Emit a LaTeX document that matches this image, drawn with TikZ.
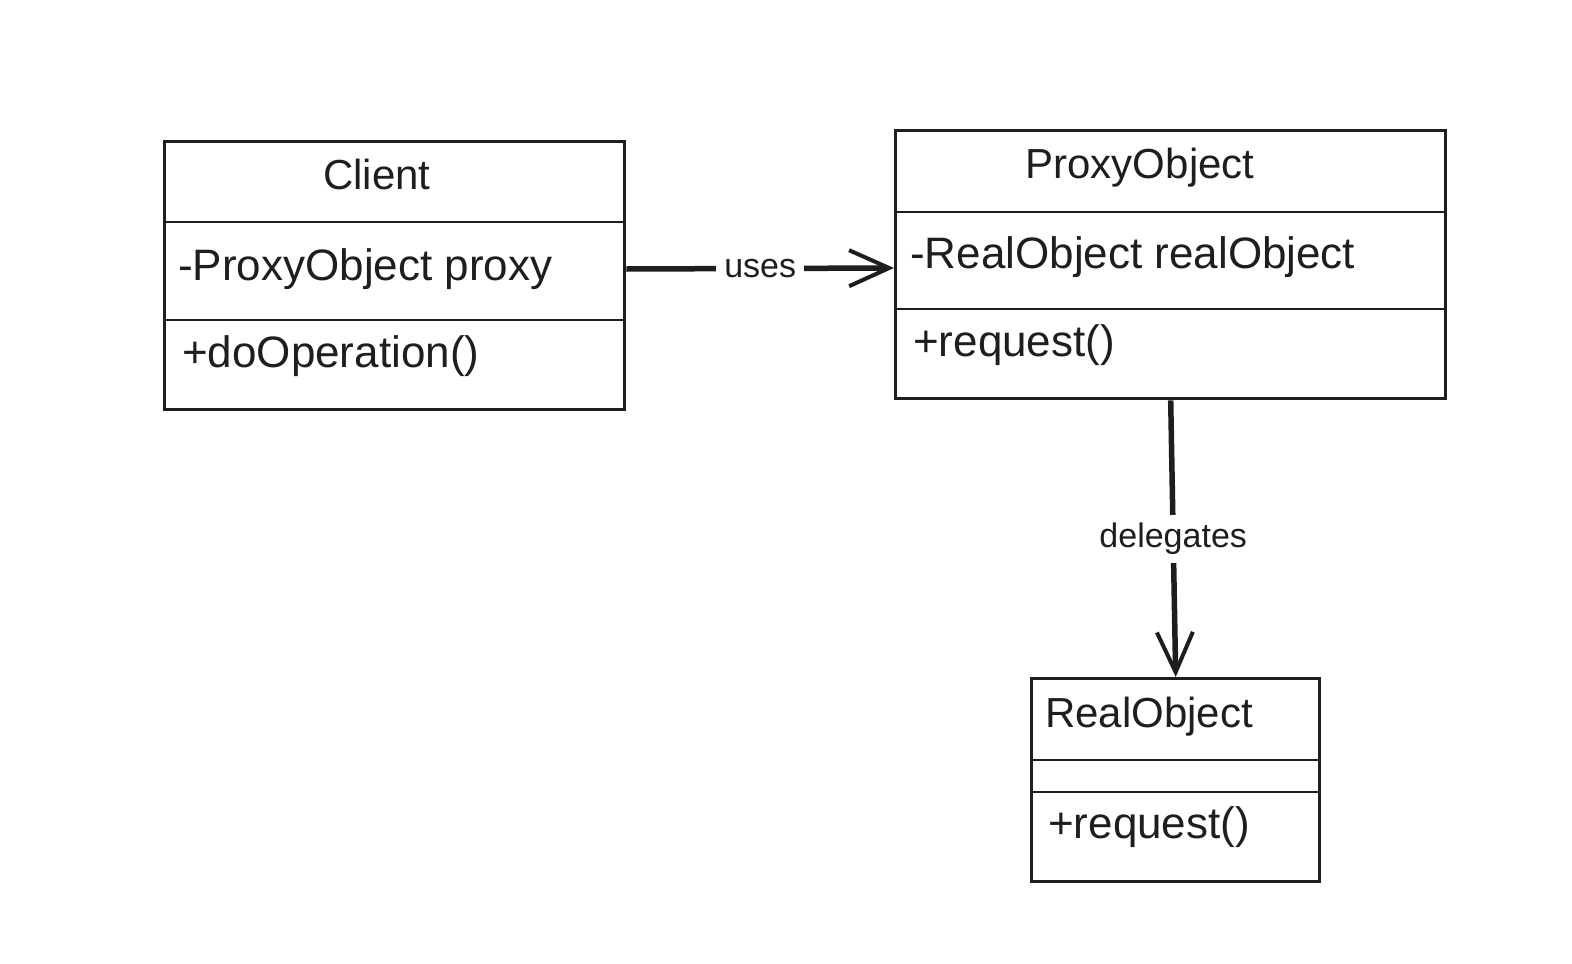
\documentclass[tikz,border=0pt]{standalone}
\usepackage{fontspec}
\setmainfont{Liberation Sans}
\usetikzlibrary{arrows.meta}
\definecolor{ink}{HTML}{1E1E1E}
\begin{document}
\begin{tikzpicture}[x=1pt,y=-1pt,
  box/.style={draw=ink, line width=3.4pt, inner sep=0pt, anchor=north west},
  divider/.style={draw=ink, line width=2pt},
  member/.style={anchor=base west, inner sep=0pt, text=ink, font=\fontsize{44}{52}\selectfont},
  classname/.style={inner sep=0pt, text=ink, font=\fontsize{42}{50}\selectfont},
  link/.style={draw=ink, line width=5.5pt, -{Straight Barb[length=40pt,width=36pt,line width=4pt]}},
  tag/.style={fill=white, inner sep=8pt, text=ink, font=\fontsize{34}{40}\selectfont}]
\useasboundingbox (0,0) rectangle (1572,964);

% class boxes
\node[box, minimum width=460pt, minimum height=268pt] (client) at (163,140) {};
\node[box, minimum width=550pt, minimum height=268pt] (proxy) at (894,129) {};
\node[box, minimum width=288pt, minimum height=203pt] (real) at (1030,677) {};

% compartment dividers
\draw[divider] (client.west |- 0,222) -- (client.east |- 0,222);
\draw[divider] (client.west |- 0,320) -- (client.east |- 0,320);
\draw[divider] (proxy.west |- 0,212) -- (proxy.east |- 0,212);
\draw[divider] (proxy.west |- 0,309) -- (proxy.east |- 0,309);
\draw[divider] (real.west |- 0,760) -- (real.east |- 0,760);
\draw[divider] (real.west |- 0,792) -- (real.east |- 0,792);

% class names
\node[classname, anchor=base] (clientname) at (377,189) {Client};
\node[classname, anchor=base] (proxyname) at (1140,178) {ProxyObject};
\node[classname, anchor=base west] (realname) at (1045,727) {RealObject};

% attributes and operations
\node[member] (clientattr) at (178,280) {-ProxyObject proxy};
\node[member] (clientop) at (182,367) {+doOperation()};
\node[member] (proxyattr) at (910,268) {-RealObject realObject};
\node[member] (proxyop) at (913,356) {+request()};
\node[member] (realop) at (1048,838) {+request()};

% associations
\draw[link] (client.east |- 0,269) -- node[tag] (usestag) {uses} (proxy.west |- 0,268);
\draw[link] (proxy.south) -- node[tag] (delegatestag) {delegates} (real.north);
\end{tikzpicture}
\end{document}
